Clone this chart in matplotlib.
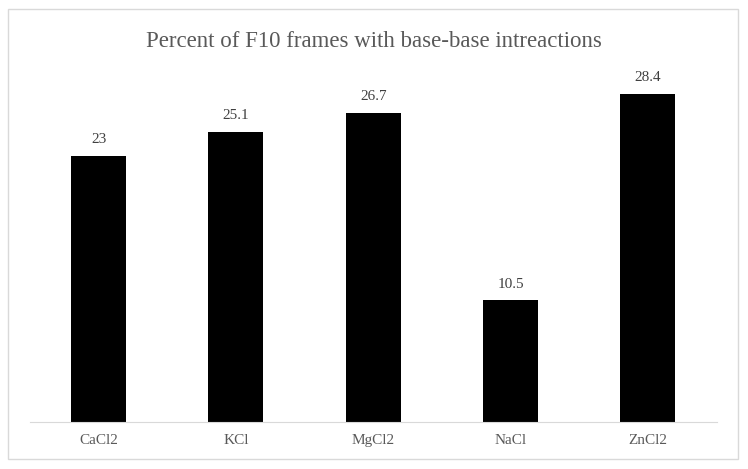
import matplotlib.pyplot as plt
from matplotlib.patches import Rectangle

# Data
salts = ["CaCl2", "KCl", "MgCl2", "NaCl", "ZnCl2"]
percent = [23, 25.1, 26.7, 10.5, 28.4]
value_labels = ["23", "25.1", "26.7", "10.5", "28.4"]

plt.rcParams['font.family'] = ['Liberation Serif', 'DejaVu Serif']

fig = plt.figure(figsize=(7.48, 4.69), dpi=100)
ax = fig.add_axes([0.040, 0.101, 0.918, 0.739])

bars = ax.bar(salts, percent, width=0.4, color="black")
for b, lab in zip(bars, value_labels):
    ax.annotate(lab, (b.get_x() + b.get_width() / 2, b.get_height()),
                xytext=(0, 7), textcoords="offset points",
                ha="center", va="bottom", fontsize=11, color="#404040")

ax.set_xlim(-0.5, 4.5)
ax.set_ylim(0, 30)
ax.set_yticks([])
for s in ["top", "right", "left"]:
    ax.spines[s].set_visible(False)
ax.spines["bottom"].set_color("#d9d9d9")
ax.tick_params(axis="x", length=0, labelsize=11, labelcolor="#595959", pad=9)

# title
fig.text(0.5, 1 - 47 / 469, "Percent of F10 frames with base-base intreactions",
         ha="center", va="baseline", fontsize=16.5, color="#595959")

# outer chart border
fig.patches.append(Rectangle((0.0107, 0.0213), 0.976, 0.9595, transform=fig.transFigure,
                             fill=False, edgecolor="#d9d9d9", linewidth=1))

fig.savefig("out.png", dpi=100)
